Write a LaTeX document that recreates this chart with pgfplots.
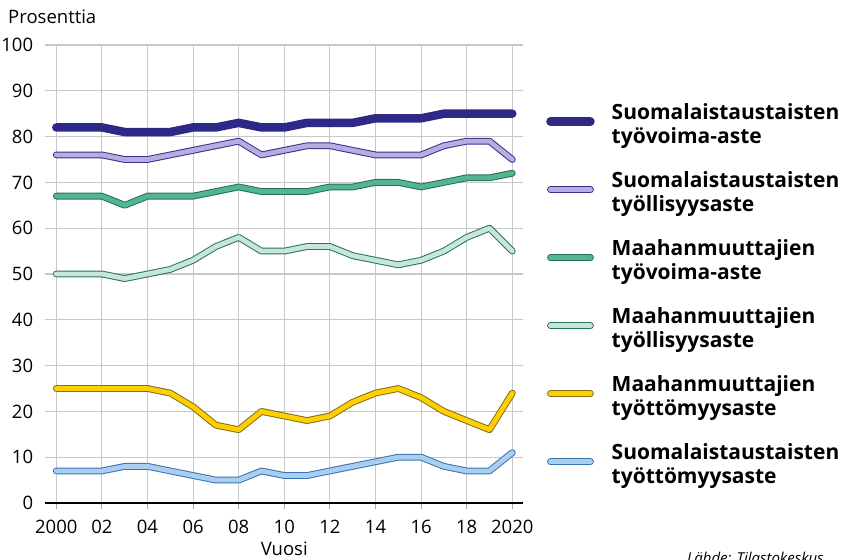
\documentclass[border=0pt]{standalone}
\usepackage{fontspec}
\setmainfont{Open Sans}
\usepackage{pgfplots}
\usepackage{pgfplotstable}
\pgfplotsset{compat=1.18}
\definecolor{cNavy}{RGB}{46,40,135}
\definecolor{cPurpF}{RGB}{182,174,222}
\definecolor{cPurpB}{RGB}{55,48,145}
\definecolor{cGreenF}{RGB}{84,182,145}
\definecolor{cGreenB}{RGB}{38,112,82}
\definecolor{cLGreenF}{RGB}{198,230,218}
\definecolor{cLGreenB}{RGB}{45,115,88}
\definecolor{cYelF}{RGB}{255,208,0}
\definecolor{cYelB}{RGB}{130,110,30}
\definecolor{cBlueF}{RGB}{170,205,240}
\definecolor{cBlueB}{RGB}{55,115,178}
\definecolor{cGrid}{RGB}{200,200,200}
\definecolor{cTick}{RGB}{165,165,165}
\pgfplotstableread{
year sty sts mty mts mtt stt
2000 82 76 67 50 25 7
2001 82 76 67 50 25 7
2002 82 76 67 50 25 7
2003 81 75 65 49 25 8
2004 81 75 67 50 25 8
2005 81 76 67 51 24 7
2006 82 77 67 53 21 6
2007 82 78 68 56 17 5
2008 83 79 69 58 16 5
2009 82 76 68 55 20 7
2010 82 77 68 55 19 6
2011 83 78 68 56 18 6
2012 83 78 69 56 19 7
2013 83 77 69 54 22 8
2014 84 76 70 53 24 9
2015 84 76 70 52 25 10
2016 84 76 69 53 23 10
2017 85 78 70 55 20 8
2018 85 79 71 58 18 7
2019 85 79 71 60 16 7
2020 85 75 72 55 24 11
}\datatable
\newcommand{\tickfont}{\fontsize{18.5bp}{22bp}\selectfont}
\newcommand{\legfont}{\fontsize{21bp}{24bp}\selectfont\bfseries}
\begin{document}
\begin{tikzpicture}
\useasboundingbox (0,0) rectangle (842bp,560bp);
\node[anchor=base west, inner sep=0pt, font=\tickfont] at (8bp,536bp) {Prosenttia};
\node[anchor=base west, inner sep=0pt, font=\fontsize{15bp}{18bp}\selectfont\itshape] at (687bp,-3bp) {Lähde: Tilastokeskus};
\begin{axis}[
  at={(45.3bp,57bp)}, anchor=south west,
  scale only axis, width=478bp, height=458bp,
  xmin=1999.518, xmax=2020.482, ymin=0, ymax=100,
  axis x line*=bottom, axis y line*=left,
  x axis line style={black, line width=1.8bp, -},
  y axis line style={draw=none, -},
  xtick={2000,2002,...,2020},
  xticklabels={2000,02,04,06,08,10,12,14,16,18,2020},
  minor x tick num=1,
  ytick={0,10,...,100},
  xtick pos=left, ytick pos=left,
  tick align=outside,
  major tick length=6bp, minor tick length=6bp,
  x tick style={cTick, line width=1bp},
  y tick style={draw=none},
  xmajorgrids, ymajorgrids,
  major grid style={cGrid, line width=1.1bp},
  /pgf/number format/assume math mode=true,
  ticklabel style={font=\tickfont},
  xticklabel style={anchor=base, yshift=-24bp},
  yticklabel style={anchor=east, inner sep=0pt, xshift=-6bp},
  xlabel={Vuosi},
  xlabel style={font=\tickfont, yshift=-2bp},
  every axis plot/.append style={line join=round, line cap=round},
  legend image code/.code={\path[draw=none] (0bp,5bp) -- (48bp,5bp); \draw[#1] (4bp,5bp) -- (44bp,5bp);},
  legend cell align=left,
  legend style={at={(axis description cs:1.0475,0.8712)}, anchor=north west,
    draw=none, fill=none, inner sep=0pt, row sep=23bp, column sep=17bp,
    nodes={inner sep=0pt, text width=260bp, align=left, font=\legfont, text height=15bp, text depth=30bp}},
]
\addplot[draw=cNavy, line width=8.5bp] table[x=year, y=sty] {\datatable};
\addlegendentry{Suomalaistaustaisten\\työvoima-aste}
\addplot[draw=cPurpB, line width=1bp, double=cPurpF, double distance=4.8bp] table[x=year, y=sts] {\datatable};
\addlegendentry{Suomalaistaustaisten\\työllisyysaste}
\addplot[draw=cGreenB, line width=1bp, double=cGreenF, double distance=4.8bp] table[x=year, y=mty] {\datatable};
\addlegendentry{Maahanmuuttajien\\työvoima-aste}
\addplot[draw=cLGreenB, line width=1bp, double=cLGreenF, double distance=4.8bp] table[x=year, y=mts] {\datatable};
\addlegendentry{Maahanmuuttajien\\työllisyysaste}
\addplot[draw=cYelB, line width=1bp, double=cYelF, double distance=4.8bp] table[x=year, y=mtt] {\datatable};
\addlegendentry{Maahanmuuttajien\\työttömyysaste}
\addplot[draw=cBlueB, line width=1bp, double=cBlueF, double distance=4.8bp] table[x=year, y=stt] {\datatable};
\addlegendentry{Suomalaistaustaisten\\työttömyysaste}
\end{axis}
\end{tikzpicture}
\end{document}
